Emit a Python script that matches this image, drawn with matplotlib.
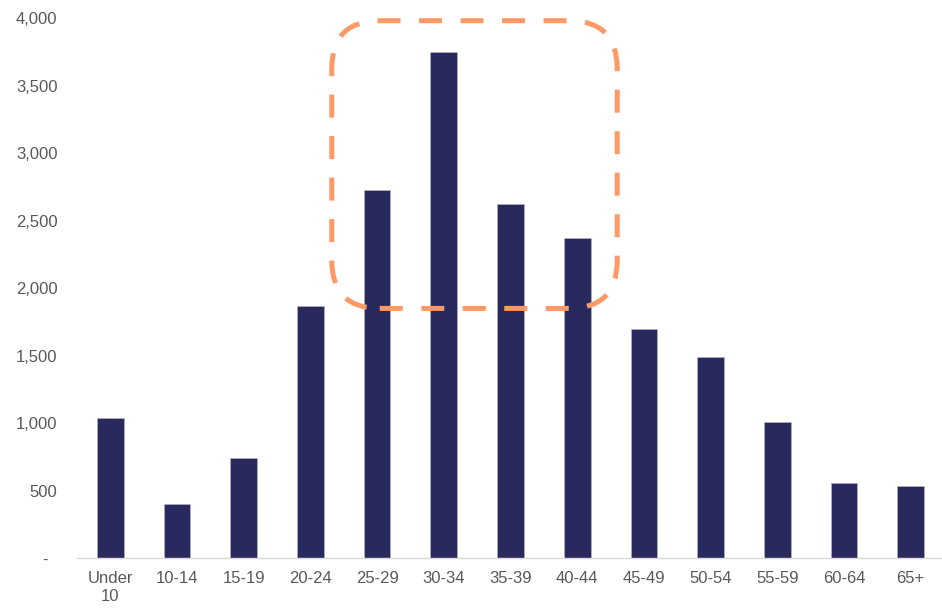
import matplotlib.pyplot as plt
from matplotlib.patches import FancyBboxPatch
from matplotlib.transforms import IdentityTransform
from matplotlib.ticker import FuncFormatter

# age groups and counts
age_groups = ['Under\n10', '10-14', '15-19', '20-24', '25-29', '30-34', '35-39',
              '40-44', '45-49', '50-54', '55-59', '60-64', '65+']
counts = [1035, 400, 740, 1867, 2728, 3750, 2625, 2373, 1695, 1490, 1010, 560, 533]

# highlighted range (dashed box)
hl_first, hl_last = '25-29', '40-44'
hl_low, hl_high = 1850, 3980

bar_col = '#29295E'
box_col = '#FF9966'
txt_col = '#595959'

plt.rcParams['font.family'] = ['Liberation Sans', 'DejaVu Sans']

fig = plt.figure(figsize=(9.42, 6.11), dpi=100)
ax = fig.add_axes([77/942, 52.7/611, 1 - 77/942, (593 - 52.7)/611])

x = list(range(len(age_groups)))
ax.bar(x, counts, width=0.4, color=bar_col, edgecolor='#B8B8CC', linewidth=0.4, zorder=2)

ax.set_xlim(-0.5, 12.47)
ax.set_ylim(0, 4000)
ax.set_yticks(range(0, 4001, 500))
ax.yaxis.set_major_formatter(FuncFormatter(lambda v, p: '-  ' if v == 0 else '{:,.0f}'.format(v)))
ax.set_xticks(x)
ax.set_xticklabels(age_groups, linespacing=1.25)

for s in ['top', 'right', 'left']:
    ax.spines[s].set_visible(False)
ax.spines['bottom'].set_color('#D9D9D9')
ax.spines['bottom'].set_linewidth(1.0)
ax.tick_params(axis='both', length=0, labelsize=12, labelcolor=txt_col)
ax.tick_params(axis='y', pad=14)
ax.tick_params(axis='x', pad=9)

# dashed rounded box around the peak groups, drawn in pixel space so corners stay round
i0, i1 = age_groups.index(hl_first), age_groups.index(hl_last)
(x0, y0) = ax.transData.transform((i0 - 0.68, hl_low))
(x1, y1) = ax.transData.transform((i1 + 0.6, hl_high))
box = FancyBboxPatch((x0, y0), x1 - x0, y1 - y0,
                     boxstyle='round,pad=0,rounding_size=48',
                     transform=IdentityTransform(), fill=False,
                     edgecolor=box_col, linewidth=3.6,
                     linestyle=(0, (4.6, 3.7)), capstyle='butt',
                     clip_on=False, zorder=3)
fig.patches.append(box)

fig.savefig('out.png', dpi=100)
